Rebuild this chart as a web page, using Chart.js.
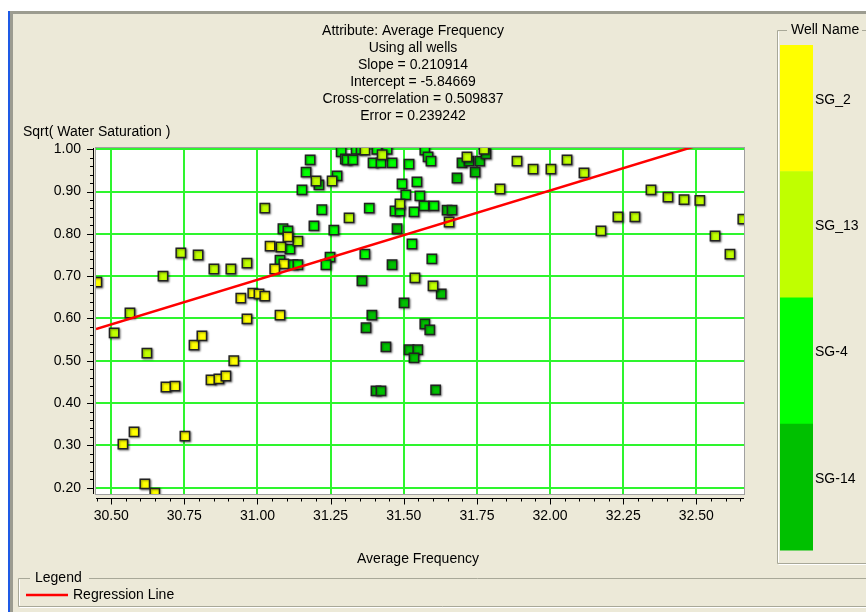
<!DOCTYPE html>
<html>
<head>
<meta charset="utf-8">
<script src="https://cdn.jsdelivr.net/npm/chart.js@4.4.0/dist/chart.umd.min.js"></script>
<style>
  html, body { margin: 0; padding: 0; background: #ECE9D8; }
  canvas { display: block; }
</style>
</head>
<body>
<canvas id="crossplot" width="866" height="612"></canvas>
<script>
var sg2X = [30.451, 30.943, 30.984, 31.005, 31.025, 30.964, 30.783, 30.810, 30.919, 30.687, 30.718, 30.841,
            30.868, 30.892, 30.578, 30.540, 30.752, 30.615, 30.649, 31.104, 31.043, 31.090, 31.059, 31.077];
var sg2Y = [0.686, 0.648, 0.660, 0.658, 0.653, 0.599, 0.537, 0.559, 0.500, 0.438, 0.440, 0.455,
            0.457, 0.464, 0.332, 0.303, 0.322, 0.209, 0.187, 0.793, 0.771, 0.729, 0.717, 0.608];

var sg13X = [30.738, 30.797, 30.851, 30.909, 30.964, 30.677, 30.564, 30.510, 30.622, 31.367, 31.426, 31.200,
             31.255, 31.025, 31.487, 31.313, 31.080, 31.138, 31.538, 31.716, 31.774, 31.655, 31.600, 31.887,
             31.942, 32.003, 32.058, 32.116, 31.829, 32.345, 32.403, 32.458, 32.512, 32.232, 32.290, 32.174,
             32.659, 32.564, 32.615];
var sg13Y = [0.755, 0.750, 0.717, 0.717, 0.731, 0.700, 0.613, 0.566, 0.518, 0.998, 0.987, 0.925,
             0.925, 0.861, 0.871, 0.838, 0.769, 0.783, 0.696, 0.982, 1.000, 0.828, 0.677, 0.972,
             0.953, 0.953, 0.975, 0.944, 0.906, 0.904, 0.887, 0.881, 0.879, 0.840, 0.840, 0.807,
             0.835, 0.795, 0.752];

var sg4X = [31.286, 31.337, 31.354, 31.408, 31.443, 31.300, 31.306, 31.326, 31.180, 31.395, 31.422, 31.460,
            31.518, 31.166, 31.210, 31.272, 31.152, 31.494, 31.545, 31.507, 31.555, 31.220, 31.382, 31.470,
            31.487, 31.535, 31.193, 31.087, 31.104, 31.261, 31.111, 31.528, 31.367, 31.248, 31.234, 31.077,
            31.121, 31.138, 31.572, 31.583, 31.593, 31.569, 31.603, 31.596];
var sg4Y = [0.994, 1.000, 1.000, 1.000, 1.000, 0.977, 0.975, 0.975, 0.975, 0.968, 0.968, 0.968,
            0.965, 0.946, 0.916, 0.937, 0.904, 0.918, 0.923, 0.892, 0.890, 0.857, 0.861, 0.854,
            0.854, 0.852, 0.819, 0.812, 0.807, 0.809, 0.764, 0.776, 0.752, 0.745, 0.727, 0.738,
            0.727, 0.727, 0.998, 0.982, 0.972, 0.866, 0.866, 0.741];

var sg14X = [31.477, 31.460, 31.357, 31.501, 31.391, 31.371, 31.439, 31.518, 31.548, 31.535, 31.405, 31.422,
             31.699, 31.723, 31.760, 31.781, 31.744, 31.682, 31.648, 31.665, 31.628, 31.572, 31.589, 31.609];
var sg14Y = [0.812, 0.727, 0.689, 0.637, 0.608, 0.578, 0.533, 0.526, 0.526, 0.507, 0.429, 0.429,
             0.968, 0.972, 0.972, 0.989, 0.946, 0.932, 0.856, 0.856, 0.658, 0.587, 0.573, 0.431];

var wellNames = ['SG_2', 'SG_13', 'SG-4', 'SG-14'];
var wellColors = ['#FFFF00', '#C0FF00', '#00FF00', '#00C000'];

var slope = 0.210914;
var intercept = -5.84669;
var regX = [30.448, 32.663];

var titleLines = ['Attribute: Average Frequency', 'Using all wells', 'Slope = 0.210914',
                  'Intercept = -5.84669', 'Cross-correlation = 0.509837', 'Error = 0.239242'];
var xTicks = [30.50, 30.75, 31.00, 31.25, 31.50, 31.75, 32.00, 32.25, 32.50];
var yTicks = [0.20, 0.30, 0.40, 0.50, 0.60, 0.70, 0.80, 0.90, 1.00];

var FONT = '"Liberation Sans", Arial, sans-serif';

function pts(xs, ys) {
    return xs.map(function (x, i) { return { x: x, y: ys[i] }; });
}

function wellSet(i, xs, ys) {
    return {
        type: 'scatter',
        label: wellNames[i],
        data: pts(xs, ys),
        pointStyle: 'rect',
        pointRadius: 6.6,
        pointHoverRadius: 6.6,
        backgroundColor: wellColors[i],
        borderColor: '#222',
        borderWidth: 1.5,
        clip: 0,
        order: 1
    };
}

function etchedBox(ctx, x1, y1, x2, y2, gapFrom, gapTo) {
    ctx.save();
    ctx.strokeStyle = '#A8A898';
    ctx.lineWidth = 1;
    ctx.beginPath();
    ctx.moveTo(x1 + 0.5, y2 + 0.5);
    ctx.lineTo(x1 + 0.5, y1 + 0.5);
    ctx.lineTo(gapFrom, y1 + 0.5);
    ctx.moveTo(gapTo, y1 + 0.5);
    ctx.lineTo(x2, y1 + 0.5);
    ctx.moveTo(x1 + 0.5, y2 + 0.5);
    ctx.lineTo(x2, y2 + 0.5);
    ctx.stroke();
    ctx.strokeStyle = '#FFFFFF';
    ctx.beginPath();
    ctx.moveTo(x1 + 1.5, y2 - 0.5);
    ctx.lineTo(x1 + 1.5, y1 + 1.5);
    ctx.moveTo(x1 + 1.5, y2 + 1.5);
    ctx.lineTo(x2, y2 + 1.5);
    ctx.stroke();
    ctx.restore();
}

var panelPlugin = {
    id: 'panel',
    beforeDraw: function (chart) {
        var ctx = chart.ctx, a = chart.chartArea;
        ctx.save();
        ctx.fillStyle = '#ECE9D8';
        ctx.fillRect(0, 0, 866, 612);
        ctx.fillStyle = '#FFFFFF';
        ctx.fillRect(0, 0, 866, 11);
        ctx.fillRect(0, 0, 8, 612);
        ctx.fillStyle = '#1E5AE6';
        ctx.fillRect(8, 11, 2, 601);
        ctx.fillStyle = '#9C9C90';
        ctx.fillRect(10, 11, 856, 3);
        ctx.fillRect(10, 11, 3, 601);
        ctx.fillStyle = '#FFFFFF';
        ctx.fillRect(a.left, a.top, a.right - a.left, a.bottom - a.top);
        ctx.restore();
    },
    beforeDatasetDraw: function (chart, args) {
        if (args.meta.type !== 'scatter') return;
        var ctx = chart.ctx;
        ctx.save();
        ctx.shadowColor = 'rgba(0,0,0,0.4)';
        ctx.shadowBlur = 2;
        ctx.shadowOffsetX = 1;
        ctx.shadowOffsetY = 1;
    },
    afterDatasetDraw: function (chart, args) {
        if (args.meta.type !== 'scatter') return;
        chart.ctx.restore();
    },
    afterDraw: function (chart) {
        var ctx = chart.ctx, a = chart.chartArea;
        var xs = chart.scales.x, ys = chart.scales.y;
        var v, p, major;
        ctx.save();

        // plot frame
        ctx.strokeStyle = '#A0A0A0';
        ctx.lineWidth = 1;
        ctx.strokeRect(a.left - 0.5, a.top - 0.5, a.right - a.left + 1, a.bottom - a.top + 1);

        // y ruler
        ctx.strokeStyle = '#000';
        ctx.beginPath();
        ctx.moveTo(a.left - 2.5, a.top);
        ctx.lineTo(a.left - 2.5, a.bottom);
        for (v = 0.20; v <= 1.0001; v += 0.02) {
            p = Math.round(ys.getPixelForValue(v)) + 0.5;
            major = Math.abs(v * 10 - Math.round(v * 10)) < 0.001;
            ctx.moveTo(a.left - 2.5, p);
            ctx.lineTo(a.left - (major ? 9 : 6), p);
        }
        // x ruler
        var axY = a.bottom + 4.5;
        ctx.moveTo(a.left, axY);
        ctx.lineTo(a.right, axY);
        for (v = 30.45; v <= 32.66; v += 0.05) {
            p = Math.round(xs.getPixelForValue(v)) + 0.5;
            major = Math.abs(v * 4 - Math.round(v * 4)) < 0.001;
            ctx.moveTo(p, axY);
            ctx.lineTo(p, axY + (major ? 6 : 3));
        }
        ctx.stroke();

        // titles
        ctx.fillStyle = '#000';
        ctx.font = '14px ' + FONT;
        ctx.textAlign = 'center';
        ctx.textBaseline = 'middle';
        titleLines.forEach(function (t, i) {
            ctx.fillText(t, 413, 31 + i * 17);
        });
        ctx.fillText('Average Frequency', 418, 559);
        ctx.textAlign = 'left';
        ctx.fillText('Sqrt( Water Saturation )', 23, 132);

        // well name colour key
        var barTop = 45, barH = 505 / wellNames.length;
        etchedBox(ctx, 777, 30, 866, 563, 787, 862);
        ctx.fillText('Well Name', 791, 30);
        wellNames.forEach(function (n, i) {
            ctx.fillStyle = wellColors[i];
            ctx.fillRect(780, barTop + i * barH, 33, barH + 0.5);
            ctx.fillStyle = '#000';
            ctx.fillText(n, 815, barTop + i * barH + barH / 2 - 8);
        });

        // legend
        etchedBox(ctx, 18, 578, 866, 606, 30, 89);
        ctx.fillText('Legend', 35, 578);
        ctx.strokeStyle = '#FF0000';
        ctx.lineWidth = 2.5;
        ctx.beginPath();
        ctx.moveTo(26, 595);
        ctx.lineTo(68, 595);
        ctx.stroke();
        ctx.fillText('Regression Line', 73, 595);
        ctx.restore();
    }
};

var ctx = document.getElementById('crossplot').getContext('2d');
var gridGreen = '#2EF52E';

var crossplot = new Chart(ctx, {
    type: 'scatter',
    data: {
        datasets: [
            {
                type: 'line',
                label: 'Regression Line',
                data: regX.map(function (x) { return { x: x, y: slope * x + intercept }; }),
                borderColor: '#FF0000',
                borderWidth: 2.5,
                pointRadius: 0,
                clip: 0,
                order: 0
            },
            wellSet(0, sg2X, sg2Y),
            wellSet(1, sg13X, sg13Y),
            wellSet(2, sg4X, sg4Y),
            wellSet(3, sg14X, sg14Y)
        ]
    },
    options: {
        responsive: false,
        animation: false,
        devicePixelRatio: 1,
        layout: { padding: { left: 0, top: 148, right: 122, bottom: 0 } },
        plugins: {
            legend: { display: false },
            title: { display: false },
            tooltip: { enabled: false }
        },
        scales: {
            x: {
                type: 'linear',
                min: 30.448,
                max: 32.663,
                afterBuildTicks: function (s) { s.ticks = xTicks.map(function (v) { return { value: v }; }); },
                afterFit: function (s) { s.height = 118; },
                grid: { color: gridGreen, lineWidth: 2, drawTicks: false },
                border: { display: false },
                ticks: {
                    autoSkip: false,
                    maxRotation: 0,
                    padding: 14,
                    color: '#000',
                    font: { family: FONT, size: 14 },
                    callback: function (v) { return Number(v).toFixed(2); }
                }
            },
            y: {
                type: 'linear',
                min: 0.185,
                max: 1.003,
                afterBuildTicks: function (s) { s.ticks = yTicks.map(function (v) { return { value: v }; }); },
                afterFit: function (s) { s.width = 96; },
                grid: { color: gridGreen, lineWidth: 2, drawTicks: false },
                border: { display: false },
                ticks: {
                    padding: 15,
                    color: '#000',
                    font: { family: FONT, size: 14 },
                    callback: function (v) { return Number(v).toFixed(2); }
                }
            }
        }
    },
    plugins: [panelPlugin]
});
</script>
</body>
</html>
